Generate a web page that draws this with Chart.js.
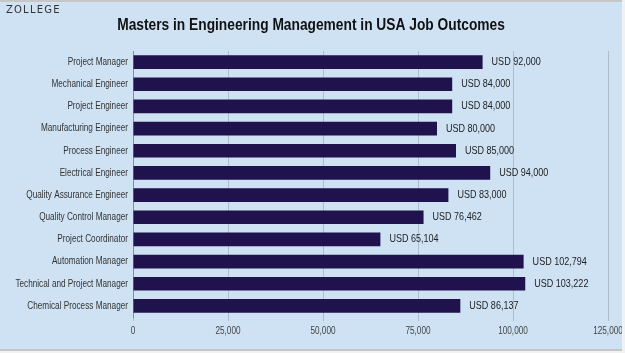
<!DOCTYPE html>
<html>
<head>
<meta charset="utf-8">
<script src="https://cdn.jsdelivr.net/npm/chart.js@4"></script>
<style>
    html, body { margin: 0; padding: 0; background: #f2f2f2; }
    #wrap { position: relative; width: 625px; height: 353px; background: #cfe2f3; overflow: hidden; }
    #logo { position: absolute; left: 6px; top: 4px; font: 10px "DejaVu Sans", sans-serif; letter-spacing: 1.2px; color: #333; }
    .edge { position: absolute; background: #c6c6c6; }
    #chart { position: absolute; left: 0; top: 0; }
</style>
</head>
<body>
<div id="wrap">
    <canvas id="chart" width="625" height="353"></canvas>
    <div id="logo">ZOLLEGE</div>
    <div class="edge" style="left:0;top:0;width:625px;height:2px"></div>
    <div class="edge" style="left:0;top:349px;width:625px;height:2px"></div>
    <div class="edge" style="left:0;top:351px;width:625px;height:2px;background:#f2f2f2"></div>
    <div class="edge" style="left:622px;top:0;width:3px;height:353px;background:#eef2f5"></div>
</div>
<script>
// Dữ liệu biểu đồ
const chartTitle = 'Masters in Engineering Management in USA Job Outcomes';
const jobTitles = [
    'Project Manager', 'Mechanical Engineer', 'Project Engineer', 'Manufacturing Engineer',
    'Process Engineer', 'Electrical Engineer', 'Quality Assurance Engineer', 'Quality Control Manager',
    'Project Coordinator', 'Automation Manager', 'Technical and Project Manager', 'Chemical Process Manager'
];
const salaries = [92000, 84000, 84000, 80000, 85000, 94000, 83000, 76462, 65104, 102794, 103222, 86137];
const tickValues = [0, 25000, 50000, 75000, 100000, 125000];

const FONT = '"Liberation Sans", Arial, sans-serif';
const NARROW = 0.82; // không có font Narrow nên ép ngang chữ

// vẽ chữ hẹp kiểu Arial Narrow
function narrowText(ctx, text, x, y, align, sx = NARROW) {
    ctx.save();
    ctx.translate(x, y);
    ctx.scale(sx, 1);
    ctx.textAlign = align;
    ctx.fillText(text, 0, 0);
    ctx.restore();
}

// Plugin vẽ tiêu đề, nhãn trục và nhãn "USD ..."
const narrowLabels = {
    id: 'narrowLabels',
    afterDraw(chart) {
        const ctx = chart.ctx;
        const area = chart.chartArea;
        const xScale = chart.scales.x;
        const yScale = chart.scales.y;
        ctx.save();
        ctx.textBaseline = 'middle';

        ctx.font = 'bold 16px ' + FONT;
        ctx.fillStyle = '#111';
        narrowText(ctx, chartTitle, 311, 26, 'center', 0.86);

        ctx.font = '10px ' + FONT;
        ctx.fillStyle = '#333';
        yScale.ticks.forEach((t, i) => {
            narrowText(ctx, yScale.getLabelForValue(t.value), area.left - 5, yScale.getPixelForTick(i), 'right');
        });

        ctx.fillStyle = '#444';
        xScale.ticks.forEach((t, i) => {
            narrowText(ctx, t.value.toLocaleString('en-US'), xScale.getPixelForTick(i), area.bottom + 14, 'center');
        });

        ctx.font = '11px ' + FONT;
        ctx.fillStyle = '#222';
        chart.getDatasetMeta(0).data.forEach((bar, i) => {
            narrowText(ctx, 'USD ' + salaries[i].toLocaleString('en-US'), bar.x + 9, bar.y, 'left');
        });
        ctx.restore();
    }
};

new Chart(document.getElementById('chart'), {
    type: 'bar',
    data: {
        labels: jobTitles,
        datasets: [{
            data: salaries,
            backgroundColor: '#20124d',
            barPercentage: 0.62,
            categoryPercentage: 1
        }]
    },
    plugins: [narrowLabels],
    options: {
        indexAxis: 'y',
        responsive: false,
        animation: false,
        layout: { padding: { left: 0, right: 17, top: 51, bottom: 32 } },
        plugins: {
            legend: { display: false },
            tooltip: { enabled: false },
            title: { display: false }
        },
        scales: {
            x: {
                min: 0,
                max: tickValues[tickValues.length - 1],
                afterBuildTicks(scale) {
                    scale.ticks = tickValues.map(v => ({ value: v }));
                },
                grid: { color: '#aebccb', tickLength: 4 },
                border: { display: false },
                ticks: { display: false }
            },
            y: {
                grid: { display: false, drawTicks: false },
                border: { display: true, color: '#8c8c8c' },
                afterFit(scale) { scale.width = 133; },
                ticks: { display: false, autoSkip: false }
            }
        }
    }
});
</script>
</body>
</html>
